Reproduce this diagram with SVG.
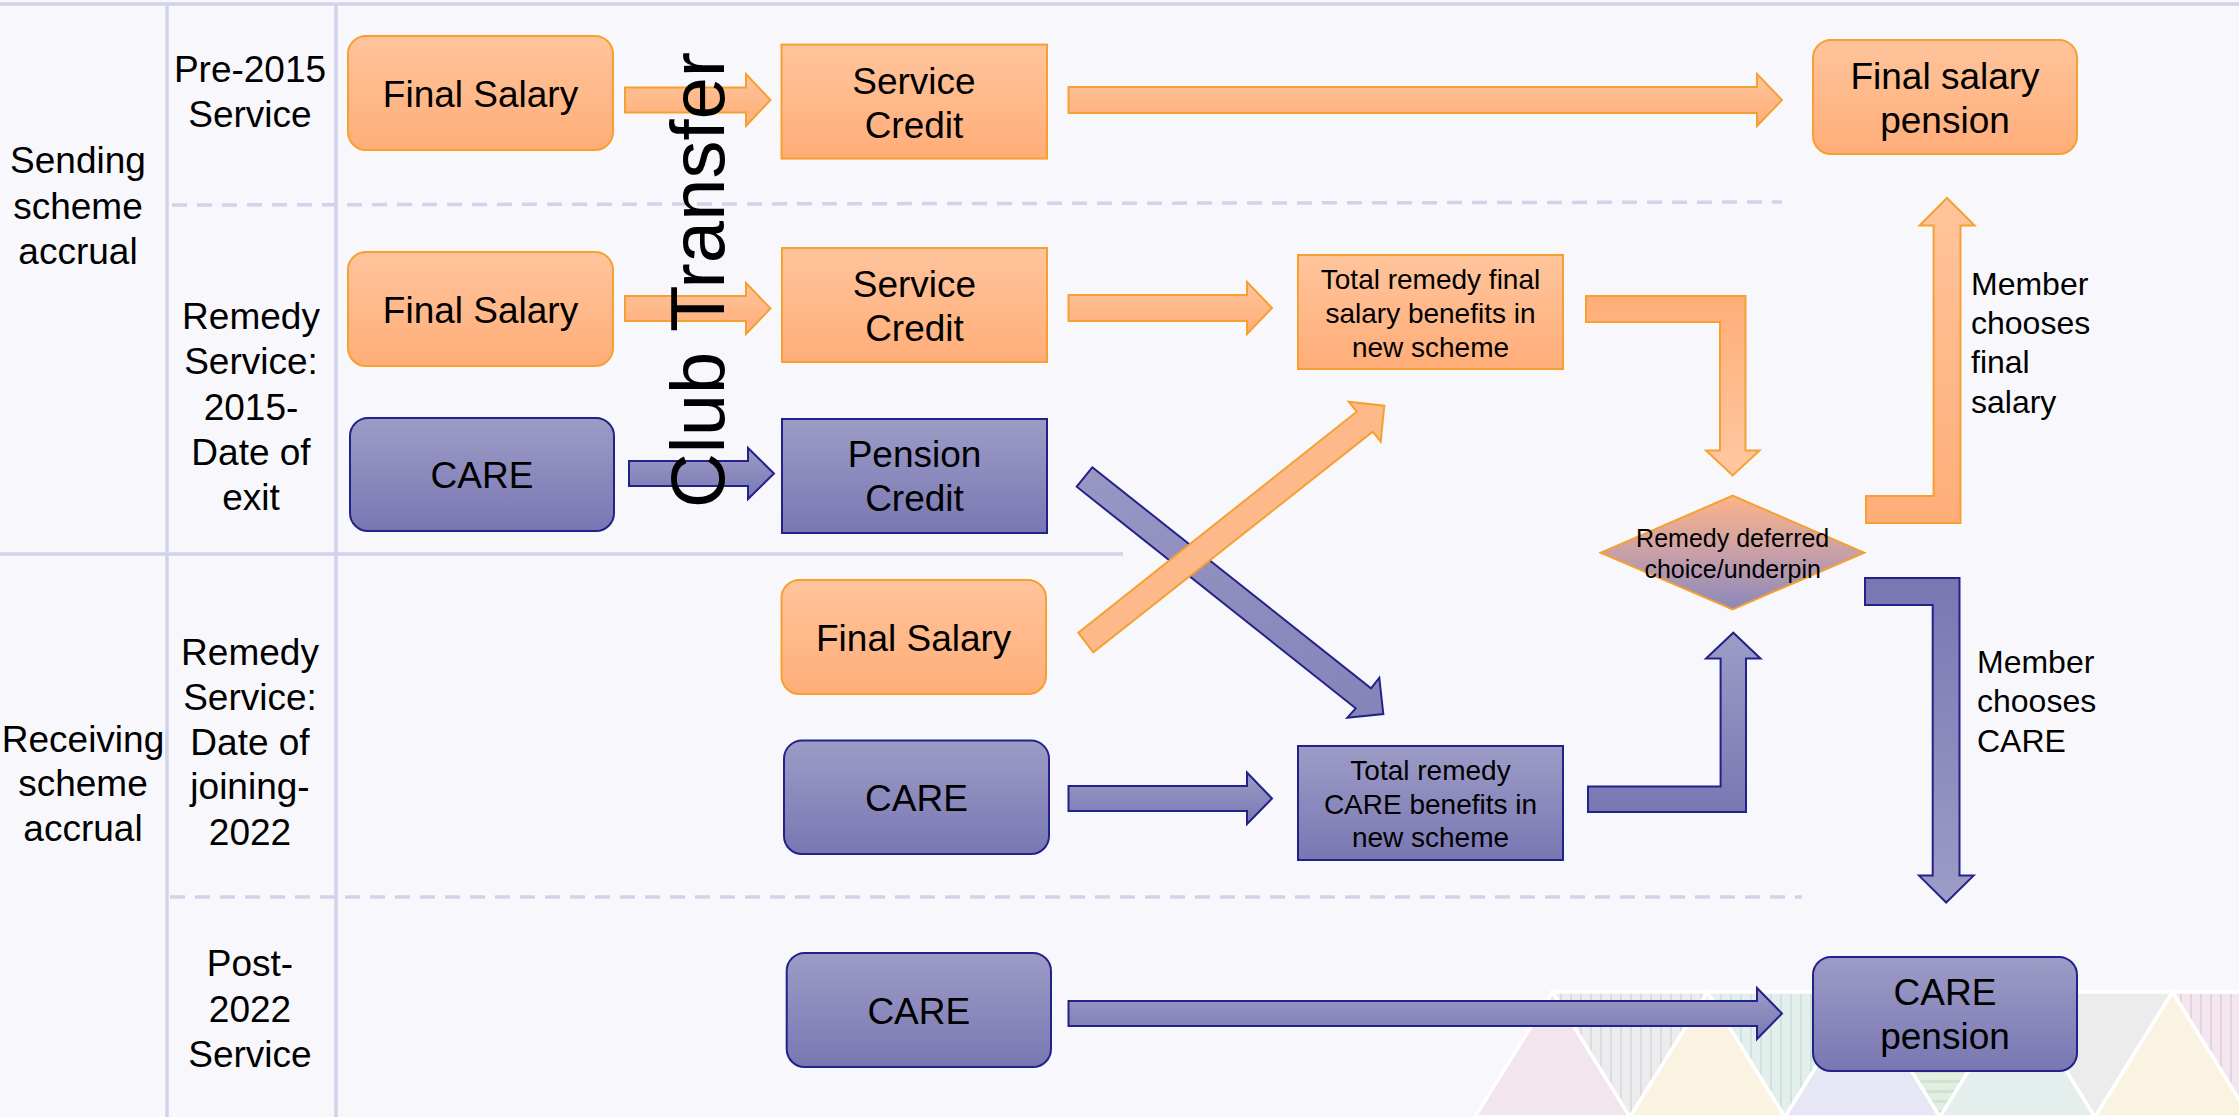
<svg xmlns="http://www.w3.org/2000/svg" width="2239" height="1117" viewBox="0 0 2239 1117">
<defs>
<linearGradient id="gO" x1="0" y1="0" x2="0" y2="1"><stop offset="0" stop-color="#ffc49c"/><stop offset="1" stop-color="#ffad78"/></linearGradient>
<linearGradient id="gOr" x1="0" y1="0" x2="0" y2="1"><stop offset="0" stop-color="#ffad78"/><stop offset="1" stop-color="#ffc8a2"/></linearGradient>
<linearGradient id="gB" x1="0" y1="0" x2="0" y2="1"><stop offset="0" stop-color="#9d9cc6"/><stop offset="1" stop-color="#7977b3"/></linearGradient>
<linearGradient id="gBr" x1="0" y1="0" x2="0" y2="1"><stop offset="0" stop-color="#7977b3"/><stop offset="1" stop-color="#9d9cc6"/></linearGradient>
<linearGradient id="gD" x1="0" y1="0" x2="0" y2="1"><stop offset="0" stop-color="#fdb486"/><stop offset="0.5" stop-color="#c9a0a8"/><stop offset="1" stop-color="#8a88bb"/></linearGradient>
<linearGradient id="gX" x1="0" y1="0" x2="1" y2="1"><stop offset="0" stop-color="#9897c4"/><stop offset="1" stop-color="#8583b9"/></linearGradient>
<pattern id="pV" width="10" height="10" patternUnits="userSpaceOnUse"><rect width="10" height="10" fill="#ececee"/><rect x="0" width="2" height="10" fill="#dcdcde"/></pattern>
<pattern id="pVg" width="10" height="10" patternUnits="userSpaceOnUse"><rect width="10" height="10" fill="#e3efec"/><rect x="0" width="2" height="10" fill="#cfe3dc"/></pattern>
<pattern id="pH" width="10" height="10" patternUnits="userSpaceOnUse"><rect width="10" height="10" fill="#e3eee3"/><rect y="0" width="10" height="3" fill="#cfe3cf"/></pattern>
<pattern id="pVp" width="10" height="10" patternUnits="userSpaceOnUse"><rect width="10" height="10" fill="#f3e6ee"/><rect x="0" width="2" height="10" fill="#e6d2de"/></pattern>
<style>
.grid{stroke:#d0d3ea;stroke-width:3.5;fill:none}
.dash{stroke:#d0d3ea;stroke-width:3.5;stroke-dasharray:15 10;fill:none}
.lbl{font-family:"Liberation Sans",Arial,sans-serif;font-size:37px;fill:#000;text-anchor:middle}
.ob{fill:url(#gO);stroke:#f5a030;stroke-width:2}
.bb{fill:url(#gB);stroke:#22228a;stroke-width:2}
.t37{font-family:"Liberation Sans",Arial,sans-serif;font-size:37px;fill:#000;text-anchor:middle}
.t28{font-family:"Liberation Sans",Arial,sans-serif;font-size:28px;fill:#000;text-anchor:middle}
.t25{font-family:"Liberation Sans",Arial,sans-serif;font-size:25px;fill:#000;text-anchor:middle}
.t32{font-family:"Liberation Sans",Arial,sans-serif;font-size:32px;fill:#000}
.oa{fill:url(#gO);stroke:#f5a030;stroke-width:2}
.oar{fill:url(#gOr);stroke:#f5a030;stroke-width:2}
.ba{fill:url(#gB);stroke:#22228a;stroke-width:2}
.bar{fill:url(#gBr);stroke:#22228a;stroke-width:2}
.tri{stroke:#ffffff;stroke-width:3.5}
</style>
</defs>
<rect width="2239" height="1117" fill="#f8f8fc"/>

<g id="decoration">
<polygon class="tri" fill="#f3e5ee" points="1552.5,992 1630,1117 1475,1117"/>
<polygon class="tri" fill="url(#pV)" points="1552.5,992 1707.5,992 1630,1117"/>
<polygon class="tri" fill="#fbf3e1" points="1707.5,992 1785,1117 1630,1117"/>
<polygon class="tri" fill="url(#pVg)" points="1707.5,992 1862.5,992 1785,1117"/>
<polygon class="tri" fill="#e6e6f4" points="1862.5,992 1940,1117 1785,1117"/>
<polygon class="tri" fill="url(#pH)" points="1862.5,992 2017.5,992 1940,1117"/>
<polygon class="tri" fill="#e4eeed" points="2017.5,992 2095,1117 1940,1117"/>
<polygon class="tri" fill="#ececec" points="2017.5,992 2172.5,992 2095,1117"/>
<polygon class="tri" fill="#fbf3e1" points="2172.5,992 2250,1117 2095,1117"/>
<polygon class="tri" fill="url(#pVp)" points="2172.5,992 2327.5,992 2250,1117"/>
</g>

<g id="grid">
<line class="grid" x1="0" y1="4" x2="2239" y2="4"/>
<line class="grid" x1="167" y1="4" x2="167" y2="1117"/>
<line class="grid" x1="336" y1="4" x2="336" y2="1117"/>
<line class="grid" x1="0" y1="554" x2="1123" y2="554"/>
<line class="dash" x1="172" y1="205" x2="1782" y2="202"/>
<line class="dash" x1="170" y1="897" x2="1802" y2="897"/>
</g>

<g id="row-labels">
<text class="lbl" x="78"><tspan x="78" y="173">Sending</tspan><tspan x="78" y="218.5">scheme</tspan><tspan x="78" y="264">accrual</tspan></text>
<text class="lbl" x="83"><tspan x="83" y="751.5">Receiving</tspan><tspan x="83" y="796">scheme</tspan><tspan x="83" y="841">accrual</tspan></text>
<text class="lbl" x="250"><tspan x="250" y="82">Pre-2015</tspan><tspan x="250" y="126.5">Service</tspan></text>
<text class="lbl" x="251"><tspan x="251" y="329">Remedy</tspan><tspan x="251" y="374">Service:</tspan><tspan x="251" y="420">2015-</tspan><tspan x="251" y="465">Date of</tspan><tspan x="251" y="510">exit</tspan></text>
<text class="lbl" x="250"><tspan x="250" y="665">Remedy</tspan><tspan x="250" y="710">Service:</tspan><tspan x="250" y="754.5">Date of</tspan><tspan x="250" y="799">joining-</tspan><tspan x="250" y="844.5">2022</tspan></text>
<text class="lbl" x="250"><tspan x="250" y="976">Post-</tspan><tspan x="250" y="1021.5">2022</tspan><tspan x="250" y="1067">Service</tspan></text>
</g>

<g id="connectors">
<polygon class="oa" points="625,87.5 746,87.5 746,74 770.5,100 746,126 746,112.5 625,112.5"/>
<polygon class="oa" points="625,296 746,296 746,283 770.5,308.5 746,334 746,321 625,321"/>
<polygon class="ba" points="629,461 748,461 748,448 774,473.5 748,499 748,486 629,486"/>
<polygon class="oa" points="1068.5,87 1757,87 1757,74 1782,100 1757,126 1757,113 1068.5,113"/>
<polygon class="oa" points="1068.5,295 1247,295 1247,282 1272,308 1247,334 1247,321 1068.5,321"/>
<polygon class="ba" points="1068.5,786 1247,786 1247,772.5 1272,798.5 1247,824 1247,811 1068.5,811"/>
<polygon class="ba" points="1068.5,1001 1757,1001 1757,988 1782,1013.5 1757,1039 1757,1026 1068.5,1026"/>
<polygon class="ba" style="fill:url(#gX)" points="1092.3,467.3 1371,688.3 1379.3,677.7 1383.3,714 1347.3,717.7 1355.7,708.3 1076.7,486.7"/>
<polygon class="oa" style="fill:#fdb98a" points="1078.3,632.7 1356.7,411.7 1348.7,401.7 1384.3,405.7 1380.7,441.7 1372.7,431.7 1093.3,652.3"/>
<polygon class="oar" points="1586,296 1745.5,296 1745.5,450.5 1759.5,450.5 1732.7,475.5 1706,450.5 1720,450.5 1720,322 1586,322"/>
<polygon class="ba" points="1588,812 1746,812 1746,658.5 1760.5,658.5 1733.3,632.7 1706,658.5 1720.6,658.5 1720.6,786.6 1588,786.6"/>
<polygon class="oa" points="1866,523 1960.5,523 1960.5,225.6 1974.6,225.6 1947,198 1919.5,225.6 1933.6,225.6 1933.6,496 1866,496"/>
<polygon class="bar" points="1865,578 1959.5,578 1959.5,875.6 1973.6,875.6 1946.2,902.5 1919,875.6 1932.7,875.6 1932.7,605 1865,605"/>
</g>

<g id="club-transfer">
<text transform="translate(724,280) rotate(-90)" x="0" y="0" style="font-family:'Liberation Sans',Arial,sans-serif;font-size:76px;fill:#000;text-anchor:middle">Club Transfer</text>
</g>

<g id="node-fs1"><rect class="ob" x="348" y="36" width="265" height="114" rx="18"/><text class="t37" x="480.5" y="106.5">Final Salary</text></g>
<g id="node-sc1"><rect class="ob" x="781.5" y="44.6" width="265.5" height="114"/><text class="t37" x="914"><tspan x="914" y="93.5">Service</tspan><tspan x="914" y="137.5">Credit</tspan></text></g>
<g id="node-fsp"><rect class="ob" x="1813" y="40" width="264" height="114" rx="18"/><text class="t37" x="1945"><tspan x="1945" y="88.5">Final salary</tspan><tspan x="1945" y="132.5">pension</tspan></text></g>
<g id="node-fs2"><rect class="ob" x="348" y="252" width="265" height="114" rx="18"/><text class="t37" x="480.5" y="322.5">Final Salary</text></g>
<g id="node-sc2"><rect class="ob" x="782" y="248" width="265" height="114"/><text class="t37" x="914.5"><tspan x="914.5" y="296.5">Service</tspan><tspan x="914.5" y="340.5">Credit</tspan></text></g>
<g id="node-trfs"><rect class="ob" x="1298" y="255" width="265" height="114"/><text class="t28" x="1430.5"><tspan x="1430.5" y="289">Total remedy final</tspan><tspan x="1430.5" y="323">salary benefits in</tspan><tspan x="1430.5" y="357">new scheme</tspan></text></g>
<g id="node-care1"><rect class="bb" x="350" y="418" width="264" height="113" rx="18"/><text class="t37" x="482" y="488">CARE</text></g>
<g id="node-pc"><rect class="bb" x="782" y="419" width="265" height="114"/><text class="t37" x="914.5"><tspan x="914.5" y="467">Pension</tspan><tspan x="914.5" y="511">Credit</tspan></text></g>
<g id="node-fs3"><rect class="ob" x="781.5" y="580" width="264.5" height="114" rx="18"/><text class="t37" x="913.7" y="650.5">Final Salary</text></g>
<g id="node-care2"><rect class="bb" x="784" y="740.6" width="265" height="113.4" rx="18"/><text class="t37" x="916.5" y="811">CARE</text></g>
<g id="node-trc"><rect class="bb" x="1298" y="746" width="265" height="114"/><text class="t28" x="1430.5"><tspan x="1430.5" y="780">Total remedy</tspan><tspan x="1430.5" y="813.5">CARE benefits in</tspan><tspan x="1430.5" y="847">new scheme</tspan></text></g>
<g id="node-care3"><rect class="bb" x="786.7" y="953" width="264.3" height="114" rx="18"/><text class="t37" x="918.8" y="1023.5">CARE</text></g>
<g id="node-carep"><rect class="bb" x="1813" y="957" width="264" height="114" rx="18"/><text class="t37" x="1945"><tspan x="1945" y="1005">CARE</tspan><tspan x="1945" y="1049">pension</tspan></text></g>
<g id="node-diamond"><polygon fill="url(#gD)" stroke="#f5a030" stroke-width="2" points="1732.7,495.7 1864.3,552.7 1732.7,609.3 1600.7,552.7"/><text class="t25" x="1732.7"><tspan x="1732.7" y="547">Remedy deferred</tspan><tspan x="1732.7" y="577.5">choice/underpin</tspan></text></g>

<g id="choice-labels">
<text class="t32"><tspan x="1971" y="294.5">Member</tspan><tspan x="1971" y="334">chooses</tspan><tspan x="1971" y="373">final</tspan><tspan x="1971" y="412.5">salary</tspan></text>
<text class="t32"><tspan x="1977" y="672.5">Member</tspan><tspan x="1977" y="712">chooses</tspan><tspan x="1977" y="751.5">CARE</tspan></text>
</g>
</svg>
